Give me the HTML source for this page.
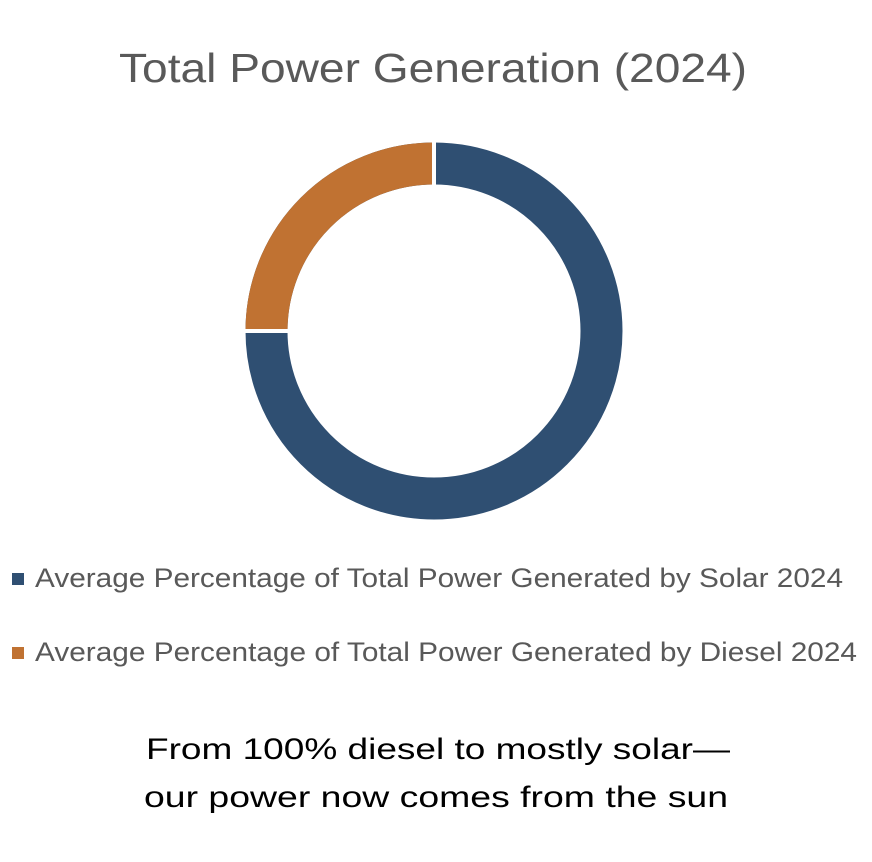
<!DOCTYPE html>
<html><head><style>body{margin:0;background:#fff}</style></head><body>
<svg width="872" height="862" xmlns="http://www.w3.org/2000/svg" style="display:block">
<rect width="872" height="862" fill="#fff"/>
<text x="433" y="82" text-anchor="middle" font-family="Liberation Sans, sans-serif" font-size="41" fill="#595959" textLength="628" lengthAdjust="spacingAndGlyphs">Total Power Generation (2024)</text>
<circle cx="434" cy="331" r="167.5" fill="none" stroke="#2F4F72" stroke-width="42"/>
<path d="M 434 163.5 A 167.5 167.5 0 0 0 266.5 331" fill="none" stroke="#C07232" stroke-width="42"/>
<line x1="434" y1="140" x2="434" y2="190" stroke="#fff" stroke-width="4"/>
<line x1="240" y1="331" x2="292" y2="331" stroke="#fff" stroke-width="4"/>
<rect x="12" y="573" width="12" height="12" fill="#2F4F72"/>
<rect x="12" y="647" width="12" height="12" fill="#C07232"/>
<text x="35" y="587" font-family="Liberation Sans, sans-serif" font-size="27" fill="#595959" textLength="808" lengthAdjust="spacingAndGlyphs">Average Percentage of Total Power Generated by Solar 2024</text>
<text x="35" y="661" font-family="Liberation Sans, sans-serif" font-size="27" fill="#595959" textLength="822" lengthAdjust="spacingAndGlyphs">Average Percentage of Total Power Generated by Diesel 2024</text>
<text x="438" y="759" text-anchor="middle" font-family="Liberation Sans, sans-serif" font-size="30" fill="#000" textLength="584" lengthAdjust="spacingAndGlyphs">From 100% diesel to mostly solar—</text>
<text x="436" y="807" text-anchor="middle" font-family="Liberation Sans, sans-serif" font-size="30" fill="#000" textLength="584" lengthAdjust="spacingAndGlyphs">our power now comes from the sun</text>
</svg>
</body></html>
